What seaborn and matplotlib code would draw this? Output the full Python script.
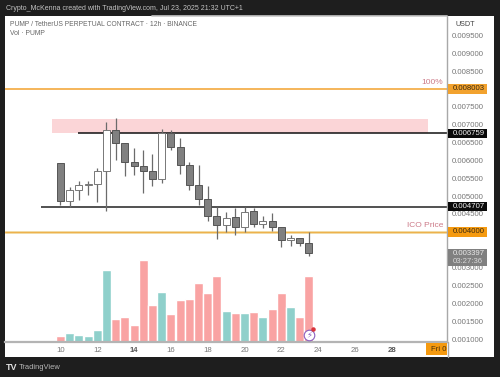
import pandas as pd
import seaborn as sns
import matplotlib.pyplot as plt
from matplotlib.patches import Rectangle
from matplotlib.lines import Line2D

# candles, one every 12h
days = [10, 10.5, 11, 11.5, 12, 12.5, 13, 13.5, 14, 14.5, 15, 15.5, 16, 16.5,
        17, 17.5, 18, 18.5, 19, 19.5, 20, 20.5, 21, 21.5, 22, 22.5, 23, 23.5]
opens = [.00594, .00487, .00517, .00530, .00533, .00570, .00685, .00650, .00596, .00584,
         .00571, .00549, .00676, .00638, .00587, .00530, .00492, .00445, .00420, .00441,
         .00413, .00458, .00423, .00430, .00414, .00376, .00382, .00369]
highs = [.00594, .00526, .00543, .00543, .00579, .00708, .00718, .00650, .00636, .00629,
         .00617, .00687, .00685, .00664, .00596, .00587, .00529, .00470, .00455, .00467,
         .00470, .00467, .00444, .00452, .00414, .00391, .00382, .00400]
lows = [.00475, .00470, .00489, .00503, .00484, .00459, .00601, .00557, .00559, .00508,
        .00528, .00538, .00629, .00562, .00517, .00475, .00431, .00379, .00400, .00391,
        .00400, .00414, .00412, .00402, .00357, .00360, .00360, .00333]
closes = [.00487, .00517, .00530, .00533, .00570, .00685, .00650, .00596, .00585, .00571,
          .00549, .00676, .00638, .00587, .00530, .00492, .00445, .00420, .00440, .00413,
          .00456, .00423, .00430, .00414, .00376, .00382, .00369, .00340]
volumes = [6.3, 9, 7, 6.3, 12, 72, 22.7, 24.7, 16.7, 81.7, 36.7, 50, 28, 42,
           43, 59.3, 48.7, 66, 31, 29, 29.3, 30, 24.7, 32.7, 49.3, 34.7, 25, 65.7]

# 0.0035, 0.004 and 0.008 sit under the price tags, so they are left out
price_ticks = [.001, .0015, .002, .0025, .003, .0045, .005, .0055, .006,
               .0065, .007, .0075, .0085, .009, .0095]
day_ticks = [10, 12, 14, 16, 18, 20, 22, 24, 26, 28]

level_100 = 0.008003
level_ico = 0.004
level_res = 0.006759
level_sup = 0.004707
last_price = 0.003397

W, H = 500, 377
DARK = '#1e1e1e'
ORANGE = '#f2a22e'

sns.set_theme(style='white')
plt.rcParams['font.family'] = ['Liberation Sans', 'DejaVu Sans']

fig = plt.figure(figsize=(W / 100, H / 100), dpi=100, facecolor=DARK)


def rect(x0, y0, x1, y1):
    # pixel box measured from the top left
    return [x0 / W, 1 - y1 / H, (x1 - x0) / W, (y1 - y0) / H]


def ftext(x, y, s, **kw):
    fig.text(x / W, 1 - y / H, s, va='center', zorder=10, **kw)


# white panel goes behind the axes
r = rect(5, 16, 494, 357)
fig.add_artist(Rectangle((r[0], r[1]), r[2], r[3], transform=fig.transFigure, fc='white', ec='none', zorder=-5))
fig.add_artist(Line2D([152 / W, 447 / W], [1 - 15.5 / H] * 2, color='#c8c8c8', lw=1.2, zorder=5))

# volume underneath the candles
df = pd.DataFrame({'day': days, 'vol': volumes,
                   'dir': ['up' if c > o else 'down' for o, c in zip(opens, closes)]})
axv = fig.add_axes(rect(5, 16, 447, 342), zorder=1)
axv.patch.set_alpha(0)
sns.barplot(data=df, x='day', y='vol', hue='dir', palette={'up': '#8fd0cb', 'down': '#f9a3a3'},
            native_scale=True, dodge=False, width=0.97, saturation=1, legend=False, ax=axv)
axv.set_xlim(6.984, 31.005)
axv.set_ylim(0, 326)
axv.axis('off')

ax = fig.add_axes(rect(5, 16, 447, 342), zorder=2)
ax.patch.set_alpha(0)
ax.set_xlim(6.984, 31.005)
ax.set_ylim(0.000916, 0.010044)

# zone and levels
ax.add_patch(Rectangle((9.54, 0.006768), 20.43, 0.000406, fc='#fbd5d7', ec='none', zorder=1))
ax.axhline(level_100, color=ORANGE, lw=1.1, zorder=2)
ax.axhline(level_ico, color='#f0d79a', lw=2, zorder=2)
ax.axhline(level_ico, color='#eeb04a', lw=0.7, zorder=2)
ax.hlines(level_res, 10.95, 31.005, color='#111111', lw=1.1, zorder=2)
ax.hlines(level_sup, 8.96, 31.005, color='#222222', lw=1.1, zorder=2)

# candles
ax.vlines(days, lows, highs, color='#6b6b6b', lw=0.9, zorder=3)
for d, o, c in zip(days, opens, closes):
    up = c > o
    ax.bar(d, abs(c - o), bottom=min(o, c), width=0.38,
           color='white' if up else '#808080',
           edgecolor='#777777' if up else '#555555', linewidth=0.7, zorder=4)

ax.text(0.991, level_100 + 0.00017, '100%', transform=ax.get_yaxis_transform(), ha='right', va='center',
        fontsize=6, color='#cc7a88')
ax.text(0.991, level_ico + 0.00017, 'ICO Price', transform=ax.get_yaxis_transform(), ha='right', va='center',
        fontsize=6, color='#cc7a88')

# bolt marker on the last bar
ax.scatter([23.5], [0.00112], s=58, fc='white', ec='#8a5fc0', lw=0.8, zorder=6)
ax.scatter([23.72], [0.00128], s=5, c='#d8343c', zorder=7)
ax.text(23.5, 0.00112, '⚡', ha='center', va='center', fontsize=6, color='#8a5fc0', zorder=7,
        family='DejaVu Sans')

# axes
for s in ['top', 'left']:
    ax.spines[s].set_visible(False)
ax.spines['right'].set_color('#a8a8a8')
ax.spines['right'].set_linewidth(1)
ax.spines['bottom'].set_color('#b4b4b4')
ax.spines['bottom'].set_linewidth(1.6)
fig.add_artist(Line2D([447.5 / W] * 2, [1 - 342 / H, 1 - 357 / H], color='#a8a8a8', lw=1, zorder=5))

ax.yaxis.tick_right()
ax.set_yticks(price_ticks)
ax.set_yticklabels([f'{p:.6f}' for p in price_ticks])
ax.set_xticks(day_ticks)
ax.set_xticklabels([str(d) for d in day_ticks])
ax.tick_params(axis='y', length=0, pad=3.6, labelsize=5.6, labelcolor='#777777')
ax.tick_params(axis='x', length=0, pad=3.4, labelsize=5.6, labelcolor='#777777')
for lab in ax.get_xticklabels():
    if lab.get_text() in ('14', '28'):
        lab.set_fontweight('bold')
        lab.set_color('#555555')

# price tags on the scale
tags = [(level_100, f'{level_100:.6f}', ORANGE, '#3a2a10'),
        (level_ico, f'{level_ico:.6f}', '#f59a10', '#3a2a10'),
        (level_res, f'{level_res:.6f}', '#0a0a0a', '#f0f0f0'),
        (level_sup, f'{level_sup:.6f}', '#0a0a0a', '#f0f0f0')]
tr = ax.get_yaxis_transform()
for p, s, bg, fg in tags:
    ax.add_patch(Rectangle((1.002, p - 0.000135), 0.0885, 0.00027, transform=tr, fc=bg, ec='none',
                           clip_on=False, zorder=8))
    ax.text(1.0125, p, s, transform=tr, va='center', ha='left', fontsize=5.6, color=fg, zorder=9)
ax.add_patch(Rectangle((1.002, 0.00304), 0.0885, 0.00048, transform=tr, fc='#808080', ec='none',
                       clip_on=False, zorder=8))
ax.text(1.0125, last_price + 0.00001, f'{last_price:.6f}', transform=tr, va='center', ha='left', fontsize=5.6,
        color='#e8e8e8', zorder=9)
ax.text(1.0125, 0.00316, '03:27:36', transform=tr, va='center', ha='left', fontsize=5.6,
        color='#d8d8d8', zorder=9)

# time tag, cut off by the scale
r = rect(426, 343, 447, 355)
fig.add_artist(Rectangle((r[0], r[1]), r[2], r[3], transform=fig.transFigure, fc='#f59a10', ec='none', zorder=5))
ftext(431, 349.5, 'Fri 0', fontsize=5.6, color='#4a3008')

# header, legend, footer
ftext(6, 9, 'Crypto_McKenna created with TradingView.com, Jul 23, 2025 21:32 UTC+1', fontsize=5.05, color='#c4c4c4')
ftext(10, 24, 'PUMP / TetherUS PERPETUAL CONTRACT · 12h · BINANCE', fontsize=4.85, color='#666666')
ftext(10, 33.5, 'Vol · PUMP', fontsize=4.85, color='#666666')
ftext(455, 24.5, 'USDT', fontsize=5.2, color='#444444')
ftext(6, 367.5, 'TV', fontsize=6.5, color='#e0e0e0', fontweight='bold')
ftext(19, 367.5, 'TradingView', fontsize=5.4, color='#b8b8b8')

fig.savefig('out.png', dpi=100, facecolor=DARK)
